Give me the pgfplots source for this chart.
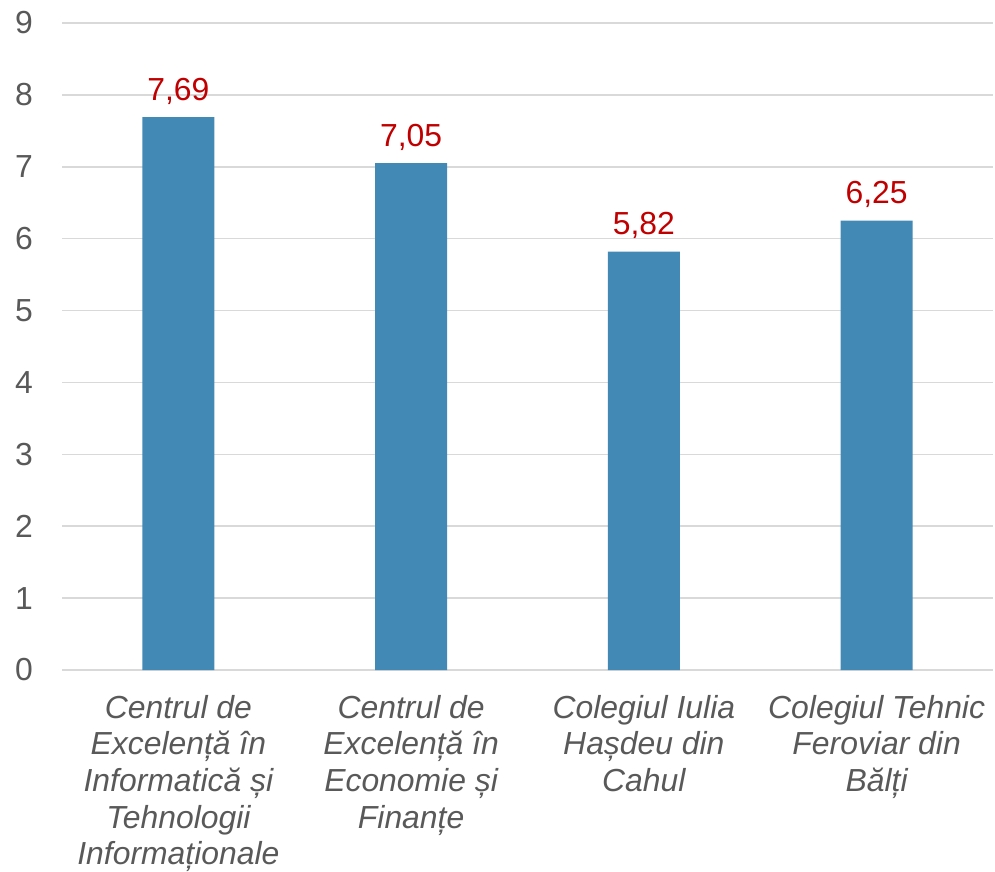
\documentclass[border=0pt]{standalone}
\usepackage{fontspec}
\setmainfont{Liberation Sans}
\usepackage{pgfplots}
\pgfplotsset{compat=1.18}
\definecolor{barblue}{HTML}{4389B5}
\definecolor{labred}{HTML}{C00000}
\definecolor{tickgray}{HTML}{595959}
\definecolor{gridgray}{HTML}{D9D9D9}
\begin{document}
\begin{tikzpicture}
\useasboundingbox (-62bp,-202bp) rectangle (933bp,670bp);
\begin{axis}[
  at={(0,0)}, anchor=south west,
  scale only axis, width=931bp, height=647bp,
  ybar, bar width=72bp,
  xmin=-0.5, xmax=3.5, ymin=0, ymax=9,
  ytick={0,1,...,9}, xtick={0,1,2,3},
  xticklabels={{Centrul de\\Excelență în\\Informatică și\\Tehnologii\\Informaționale},
               {Centrul de\\Excelență în\\Economie și\\Finanțe},
               {Colegiul Iulia\\Hașdeu din\\Cahul},
               {Colegiul Tehnic\\Feroviar din\\Bălți}},
  axis line style={draw=none}, major tick length=0pt,
  ymajorgrids, grid style={gridgray, line width=1.5bp},
  /pgf/number format/assume math mode=true,
  tick label style={font=\fontsize{32}{37}\selectfont, text=tickgray},
  yticklabel style={inner sep=0pt, anchor=east, xshift=-29bp},
  xticklabel style={font=\itshape\fontsize{32}{36.8}\selectfont, align=center, anchor=north, inner sep=0pt, yshift=-25bp},
  nodes near coords={\pgfmathprintnumber[use comma,fixed,fixed zerofill,precision=2,assume math mode=true]{\pgfplotspointmeta}},
  every node near coord/.append style={font=\fontsize{32}{37}\selectfont, text=labred, anchor=base, inner sep=0pt, yshift=17bp},
]
\addplot[fill=barblue, draw=none] coordinates {(0,7.69) (1,7.05) (2,5.82) (3,6.25)};
\end{axis}
\end{tikzpicture}
\end{document}
